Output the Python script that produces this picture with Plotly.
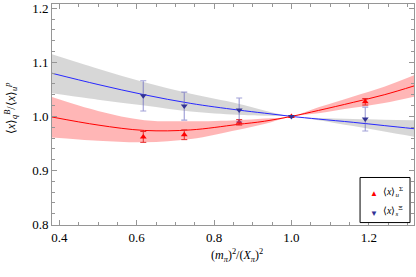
import plotly.graph_objects as go

# lattice points (normalised to the point at 1.0)
x_pts = [0.617, 0.723, 0.865, 1.0, 1.191]
sigma_u = [0.962, 0.966, 0.989, 1.0, 1.027]
sigma_u_err = [0.010, 0.009, 0.005, 0.0, 0.006]
xi_s = [1.038, 1.019, 1.012, 1.0, 0.995]
xi_s_err = [0.028, 0.026, 0.022, 0.0, 0.022]

# fit curves
x_fit = [0.38, 0.5, 0.62, 0.74, 0.86, 0.93, 1.0, 1.07, 1.16, 1.24, 1.32]
sigma_fit = [0.999, 0.984, 0.974, 0.975, 0.985, 0.991, 1.0, 1.011, 1.026, 1.040, 1.057]
sigma_hi = [1.036, 1.010, 0.993, 0.991, 0.993, 0.996, 1.0, 1.017, 1.037, 1.055, 1.077]
sigma_lo = [0.961, 0.955, 0.952, 0.958, 0.975, 0.986, 1.0, 1.006, 1.016, 1.025, 1.037]
xi_fit = [1.080, 1.059, 1.040, 1.024, 1.012, 1.006, 1.0, 0.995, 0.989, 0.983, 0.977]
xi_hi = [1.115, 1.088, 1.063, 1.042, 1.024, 1.011, 1.0, 0.997, 0.995, 0.994, 0.993]
xi_lo = [1.043, 1.031, 1.020, 1.009, 1.003, 1.001, 1.0, 0.993, 0.982, 0.972, 0.962]

legend_labels = ["⟨<i>x</i>⟩<sub><i>u</i></sub><sup>Σ</sup>", "⟨<i>x</i>⟩<sub><i>s</i></sub><sup>Ξ</sup>"]
x_title = "(<i>m</i><sub><i>π</i></sub>)<sup>2</sup>/(<i>X</i><sub><i>π</i></sub>)<sup>2</sup>"
y_title = "⟨<i>x</i>⟩<sub><i>q</i></sub><sup><i>B</i></sup>/⟨<i>x</i>⟩<sub><i>u</i></sub><sup><i>p</i></sup>"

font = "Times New Roman"
frame = "rgb(150,150,150)"

fig = go.Figure()

# bands
fig.add_trace(go.Scatter(x=x_fit, y=xi_lo, mode="lines", line=dict(width=0, shape="spline"),
                         showlegend=False, hoverinfo="skip"))
fig.add_trace(go.Scatter(x=x_fit, y=xi_hi, mode="lines", line=dict(width=0, shape="spline"),
                         fill="tonexty", fillcolor="rgba(150,150,150,0.38)",
                         showlegend=False, hoverinfo="skip"))
fig.add_trace(go.Scatter(x=x_fit, y=sigma_lo, mode="lines", line=dict(width=0, shape="spline"),
                         showlegend=False, hoverinfo="skip"))
fig.add_trace(go.Scatter(x=x_fit, y=sigma_hi, mode="lines", line=dict(width=0, shape="spline"),
                         fill="tonexty", fillcolor="rgba(255,80,80,0.42)",
                         showlegend=False, hoverinfo="skip"))

# central fit lines
fig.add_trace(go.Scatter(x=x_fit, y=xi_fit, mode="lines",
                         line=dict(color="rgb(40,40,255)", width=1, shape="spline"),
                         showlegend=False))
fig.add_trace(go.Scatter(x=x_fit, y=sigma_fit, mode="lines",
                         line=dict(color="rgb(255,0,0)", width=1, shape="spline"),
                         showlegend=False))

# data points
fig.add_trace(go.Scatter(x=x_pts, y=sigma_u, mode="markers", showlegend=False,
                         marker=dict(symbol="triangle-up", size=6, color="rgb(255,0,0)"),
                         error_y=dict(type="data", array=sigma_u_err, color="rgb(230,40,40)",
                                      thickness=1, width=3)))
fig.add_trace(go.Scatter(x=x_pts, y=xi_s, mode="markers", showlegend=False,
                         marker=dict(symbol="triangle-down", size=6, color="rgb(50,50,150)"),
                         error_y=dict(type="data", array=xi_s_err, color="rgba(100,100,190,0.6)",
                                      thickness=1.2, width=3)))

axis_common = dict(showline=True, linecolor=frame, linewidth=1, mirror="allticks",
                   ticks="inside", ticklen=5, tickcolor=frame, showgrid=False,
                   zeroline=False, tickfont=dict(family=font, size=13, color="black"))

# axis titles as plain annotations
fig.add_annotation(xref="paper", yref="paper", x=0.511, y=-0.14, text=x_title,
                   xanchor="center", yanchor="middle",
                   showarrow=False, font=dict(family=font, size=12, color="black"))
fig.add_annotation(xref="paper", yref="paper", x=-0.112, y=0.53, text=y_title, textangle=-90,
                   xanchor="center", yanchor="middle",
                   showarrow=False, font=dict(family=font, size=12, color="black"))

# hand-made legend box in the lower right corner
fig.add_shape(type="rect", xref="paper", yref="paper", x0=0.851, x1=0.989, y0=0.011, y1=0.215,
              line=dict(color="black", width=1), fillcolor="white")
fig.add_annotation(xref="paper", yref="paper", x=0.89, y=0.145, text="▲", showarrow=False,
                   xanchor="center", yanchor="middle",
                   font=dict(size=8, color="rgb(255,0,0)"))
fig.add_annotation(xref="paper", yref="paper", x=0.89, y=0.058, text="▼", showarrow=False,
                   xanchor="center", yanchor="middle",
                   font=dict(size=8, color="rgb(50,50,150)"))
fig.add_annotation(xref="paper", yref="paper", x=0.91, y=0.15, text=legend_labels[0],
                   showarrow=False, xanchor="left", yanchor="middle",
                   font=dict(family=font, size=10, color="black"))
fig.add_annotation(xref="paper", yref="paper", x=0.91, y=0.063, text=legend_labels[1],
                   showarrow=False, xanchor="left", yanchor="middle",
                   font=dict(family=font, size=10, color="black"))

fig.update_layout(
    width=416, height=277,
    margin=dict(l=52, r=2, t=4, b=52),
    plot_bgcolor="white", paper_bgcolor="white",
    showlegend=False,
    xaxis=dict(range=[0.381, 1.317], dtick=0.2, tick0=0.4, tickformat=".1f",
               minor=dict(dtick=0.05, ticklen=3, ticks="inside", tickcolor=frame),
               **axis_common),
    yaxis=dict(range=[0.799, 1.208], dtick=0.1, tick0=0.8, tickformat=".1f",
               minor=dict(dtick=0.02, ticklen=3, ticks="inside", tickcolor=frame),
               **axis_common),
)

# drop the default page margin so the figure sits at the window corner
fig.write_html("out.html", config={"displayModeBar": False},
               post_script="document.body.style.margin='0';")
